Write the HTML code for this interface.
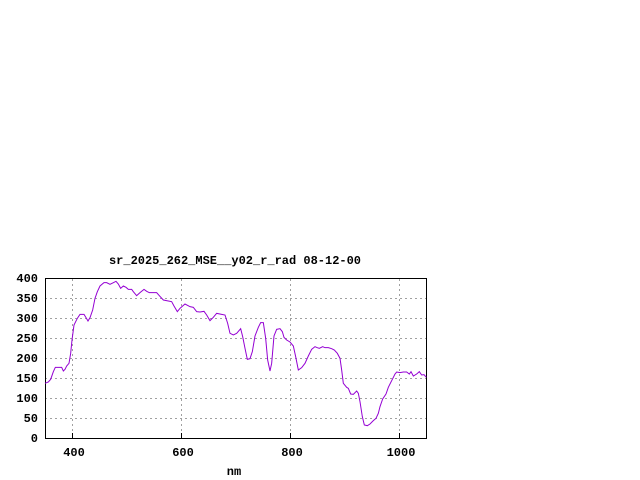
<!DOCTYPE html>
<html><head><style>body{margin:0;background:#fff}svg{display:block}</style></head>
<body>
<svg width="640" height="480" xmlns="http://www.w3.org/2000/svg" font-family="Liberation Mono, monospace" font-size="12" font-weight="bold">
<rect width="640" height="480" fill="#fff"/>
<g stroke="#a0a0a0" stroke-width="1" stroke-dasharray="2,3" fill="none">
<line x1="45" y1="398.5" x2="426" y2="398.5"/><line x1="45" y1="358.5" x2="426" y2="358.5"/><line x1="45" y1="318.5" x2="426" y2="318.5"/>
<line x1="45" y1="418.5" x2="426" y2="418.5"/><line x1="45" y1="378.5" x2="426" y2="378.5"/><line x1="45" y1="338.5" x2="426" y2="338.5"/><line x1="45" y1="298.5" x2="426" y2="298.5"/>
<line x1="72.5" y1="279" x2="72.5" y2="438"/><line x1="181.5" y1="279" x2="181.5" y2="438"/><line x1="290.5" y1="279" x2="290.5" y2="438"/><line x1="399.5" y1="279" x2="399.5" y2="438"/>
</g>
<rect x="45.5" y="278.5" width="381" height="160" fill="none" stroke="#000"/>
<g stroke="#000">
<line x1="72.5" y1="438" x2="72.5" y2="433"/><line x1="181.5" y1="438" x2="181.5" y2="433"/><line x1="290.5" y1="438" x2="290.5" y2="433"/><line x1="399.5" y1="438" x2="399.5" y2="433"/>
</g>
<g text-anchor="end">
<text x="38" y="442">0</text><text x="38" y="422">50</text><text x="38" y="402">100</text><text x="38" y="382">150</text><text x="38" y="362">200</text><text x="38" y="342">250</text><text x="38" y="322">300</text><text x="38" y="302">350</text><text x="38" y="282">400</text>
</g>
<g text-anchor="middle">
<text x="74" y="456">400</text><text x="183" y="456">600</text><text x="292" y="456">800</text><text x="401" y="456">1000</text>
<text x="234" y="475">nm</text>
<text x="235" y="264">sr_2025_262_MSE__y02_r_rad 08-12-00</text>
</g>
<g transform="translate(0,250) scale(0.33333)">
<polyline fill="none" stroke="#9400d3" stroke-width="3" points="135,400 145,396 152,388 160,365 166,352 175,352 185,352 190,363 195,358 200,348 207,340 212,310 216,270 222,225 232,205 240,193 252,193 258,203 264,213 270,203 278,180 285,145 292,125 300,108 312,98 320,98 330,103 340,98 348,94 355,102 362,115 370,108 378,112 385,118 395,118 400,125 410,137 420,128 432,118 440,124 448,128 470,128 478,137 490,150 505,153 515,155 522,168 532,185 540,175 548,168 555,162 570,170 580,172 590,185 600,186 612,184 620,195 630,212 640,202 650,190 665,193 675,195 683,220 690,250 700,255 710,250 722,236 728,260 735,295 742,328 750,326 757,305 765,258 775,232 782,218 790,218 797,265 803,330 810,363 815,340 822,258 830,238 840,236 847,245 852,262 860,270 870,276 880,288 887,320 895,360 905,353 915,340 925,318 935,298 945,290 952,293 958,295 968,290 975,293 985,293 995,296 1003,300 1012,310 1020,325 1025,360 1030,400 1040,412 1045,415 1052,432 1060,433 1070,423 1075,430 1080,455 1087,500 1093,525 1102,527 1110,522 1120,512 1128,505 1135,490 1140,470 1148,447 1158,432 1165,412 1175,392 1185,372 1190,366 1200,368 1210,366 1220,366 1228,372 1233,365 1240,378 1250,372 1258,365 1265,375 1272,374 1279,382"/>
</g>
</svg>
</body></html>
